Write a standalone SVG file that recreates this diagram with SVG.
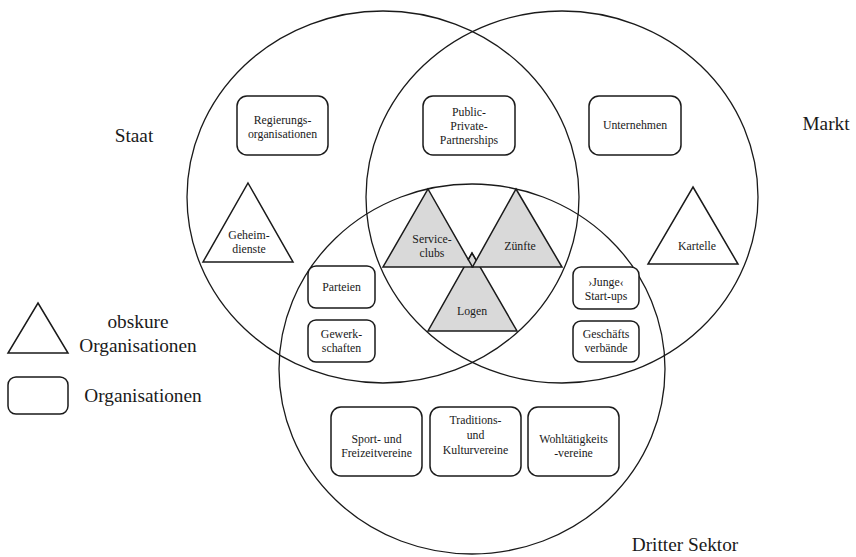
<svg xmlns="http://www.w3.org/2000/svg" width="856" height="557" viewBox="0 0 856 557">
<style>
text{font-family:"Liberation Serif","Times New Roman",serif;fill:#1a1a1a;text-anchor:middle}
.s{font-size:11.8px}
.l{font-size:19.3px}
.c{fill:none;stroke:#1a1a1a;stroke-width:1.3}
.b{fill:#fff;stroke:#1a1a1a;stroke-width:1.5}
.t{fill:#fff;stroke:#1a1a1a;stroke-width:1.5;stroke-linejoin:miter}
.g{fill:#d9d9d9;stroke:#1a1a1a;stroke-width:1.5}
</style>
<rect width="856" height="557" fill="#fff"/>
<g id="circles">
<ellipse id="staat-circle" class="c" cx="383" cy="197" rx="196" ry="186"/>
<ellipse id="markt-circle" class="c" cx="562" cy="197" rx="196" ry="186"/>
<ellipse id="dritter-circle" class="c" cx="472" cy="369" rx="193" ry="185"/>
</g>
<g id="sector-labels">
<text class="l" x="134" y="142">Staat</text>
<text class="l" x="826" y="130">Markt</text>
<text class="l" x="685" y="551">Dritter Sektor</text>
</g>
<g id="regierung"><rect class="b" x="237" y="96" width="91" height="59" rx="10"/><text class="s" x="282.5" y="124">Regierungs-</text><text class="s" x="282.5" y="138">organisationen</text></g>
<g id="ppp"><rect class="b" x="423" y="96" width="92" height="59" rx="10"/><text class="s" x="469" y="116">Public-</text><text class="s" x="469" y="130">Private-</text><text class="s" x="469" y="144">Partnerships</text></g>
<g id="unternehmen"><rect class="b" x="589" y="96" width="92" height="59" rx="10"/><text class="s" x="635" y="129">Unternehmen</text></g>
<g id="geheimdienste"><polygon class="t" points="248,183 293,262 203,262"/><text class="s" x="249" y="239">Geheim-</text><text class="s" x="249" y="253">dienste</text></g>
<g id="kartelle"><polygon class="t" points="693,187 738,264 648,264"/><text class="s" x="697" y="250">Kartelle</text></g>
<g id="logen"><polygon class="g" points="472,253 517,331 428,331"/><text class="s" x="472" y="315">Logen</text></g>
<g id="serviceclubs"><polygon class="g" points="428,189 472.5,267 383,267"/><text class="s" x="432" y="243">Service-</text><text class="s" x="432" y="257">clubs</text></g>
<g id="zuenfte"><polygon class="g" points="516,189 562,267 472.5,267"/><text class="s" x="520" y="250">Zünfte</text></g>
<g id="logen-apex"><polyline points="467.8,260.3 472,253 476.2,260.3" fill="none" stroke="#1a1a1a" stroke-width="1.2"/></g>
<g id="parteien"><rect class="b" x="308" y="266" width="67" height="42" rx="8"/><text class="s" x="341.5" y="291">Parteien</text></g>
<g id="gewerkschaften"><rect class="b" x="308" y="320" width="67" height="42" rx="8"/><text class="s" x="341.5" y="338">Gewerk-</text><text class="s" x="341.5" y="352">schaften</text></g>
<g id="startups"><rect class="b" x="573" y="267" width="66" height="42" rx="8"/><text class="s" x="606" y="286">›Junge‹</text><text class="s" x="606" y="300">Start-ups</text></g>
<g id="geschaeftsverbaende"><rect class="b" x="573" y="321" width="66" height="41" rx="8"/><text class="s" x="606" y="338">Geschäfts</text><text class="s" x="606" y="352">verbände</text></g>
<g id="sport"><rect class="b" x="331" y="407" width="91" height="69" rx="10"/><text class="s" x="376.5" y="443">Sport- und</text><text class="s" x="376.5" y="457">Freizeitvereine</text></g>
<g id="tradition"><rect class="b" x="430" y="407" width="91" height="69" rx="10"/><text class="s" x="475.5" y="424">Traditions-</text><text class="s" x="475.5" y="439">und</text><text class="s" x="475.5" y="454">Kulturvereine</text></g>
<g id="wohltaetigkeit"><rect class="b" x="528" y="407" width="91" height="69" rx="10"/><text class="s" x="573.5" y="443">Wohltätigkeits</text><text class="s" x="573.5" y="457">-vereine</text></g>
<g id="legend">
<polygon class="t" points="38,303 68,353 8,353"/>
<text class="l" x="138" y="328">obskure</text>
<text class="l" x="138" y="352">Organisationen</text>
<rect class="b" x="8" y="377" width="60" height="37" rx="8"/>
<text class="l" x="143" y="402">Organisationen</text>
</g>
</svg>
